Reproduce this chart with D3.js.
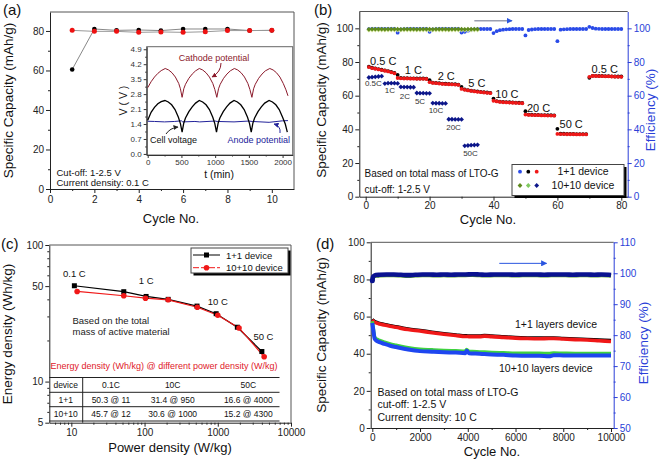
<!DOCTYPE html>
<html><head><meta charset="utf-8">
<script src="https://cdn.jsdelivr.net/npm/d3@7"></script>
<style>body{margin:0;background:#fff}svg{display:block}text{font-family:"Liberation Sans",Arial,sans-serif}</style>
</head><body><svg id="c" width="661" height="462"></svg>
<script>
// ---------- Panel (a) data ----------
const aCycles = [1,2,3,4,5,6,7,8,9,10];
const aCharge = [60.5,81,80.3,80.5,80.2,81,81,81,80.2,80.3];
const aDischarge = [80.3,79.8,79.8,79.3,79.5,79.3,79.6,80.2,80.2,80.3];
// inset (t in min, V)
const insetCathodeT = [0,50,100,150,200,260,310,360,410,460,485,510,535,560,610,660,710,765,815,865,915,965,995,1025,1050,1075,1125,1175,1225,1285,1335,1385,1435,1485,1515,1545,1570,1595,1645,1695,1745,1810,1860,1910,1960,2010,2050,2080];
const insetCathodeV = [3.1,3.38,3.6,3.77,3.9,4.0,3.93,3.8,3.6,3.3,3.05,2.65,3.05,3.26,3.54,3.74,3.89,4.0,3.93,3.8,3.6,3.3,3.02,2.65,3.05,3.26,3.54,3.74,3.89,4.0,3.93,3.8,3.6,3.3,3.02,2.65,3.05,3.26,3.54,3.74,3.89,4.0,3.93,3.8,3.6,3.3,3.0,2.72];
const insetCellT = [0,50,100,150,200,255,305,355,405,455,485,510,535,560,610,660,710,765,815,865,915,965,995,1020,1045,1070,1120,1170,1220,1280,1330,1380,1430,1480,1510,1535,1560,1585,1635,1685,1735,1800,1850,1900,1950,2000,2040,2070];
const insetCellV = [1.58,1.95,2.18,2.35,2.45,2.5,2.43,2.3,2.08,1.72,1.42,1.02,1.45,1.68,1.98,2.2,2.38,2.5,2.43,2.3,2.08,1.72,1.42,1.02,1.45,1.68,1.98,2.2,2.38,2.5,2.43,2.3,2.08,1.72,1.42,1.02,1.45,1.68,1.98,2.2,2.38,2.5,2.43,2.3,2.08,1.72,1.4,1.02];
const insetAnodeT = [0,100,250,400,500,520,700,770,1000,1030,1280,1500,1550,1800,2000,2080];
const insetAnodeV = [1.53,1.52,1.5,1.52,1.55,1.5,1.52,1.5,1.54,1.52,1.5,1.54,1.52,1.48,1.55,1.56];

// ---------- Panel (b) data ----------
const bCycles = d3.range(1,81);
const bDischarge = [77,76.4,76,75.6,75.2,74.8,74.4,73.9,73.3,
 70.5,70.3,70.2,70.2,70.1,70.1,70,70,70,69.9,
 68,67.6,67.4,67.2,67,66.9,66.8,66.7,66.6,66.4,
 64,63.5,63.1,62.8,62.5,62.3,62.1,61.9,61.7,61.5,
 57,56.6,56.3,56.1,56,55.9,55.8,55.7,55.6,55.5,
 48.8,48.6,48.5,48.4,48.4,48.3,48.3,48.2,48.2,48.1,
 37.3,37.2,37.2,37.1,37.1,37.1,37,37,37,37,
 71.2,71.7,71.7,71.6,71.6,71.5,71.5,71.4,71.3,71.2,71.2];
const bCharge = [77.2,76.6,76.2,75.8,75.4,75,74.6,74.1,73.5,
 72.3,70.5,70.4,70.4,70.3,70.3,70.2,70.2,70.2,70.1,
 69.2,67.8,67.6,67.4,67.2,67.1,67,66.9,66.8,66.6,
 65.2,63.7,63.3,63,62.7,62.5,62.3,62.1,61.9,61.7,
 58.3,56.8,56.5,56.3,56.2,56.1,56,55.9,55.8,55.7,
 50.8,48.8,48.7,48.6,48.6,48.5,48.5,48.4,48.4,48.3,
 40.3,37.4,37.4,37.3,37.3,37.3,37.2,37.2,37.2,37.2,
 70.6,71.8,71.8,71.7,71.7,71.6,71.6,71.5,71.4,71.4,71.4];
const bEff = [99.5,99.6,99.6,99.6,99.6,99.6,99.6,99.6,99.6,
 97.4,99.3,99.5,99.6,99.6,99.6,99.6,99.6,99.6,99.6,
 97.9,99.4,99.5,99.6,99.6,99.6,99.6,99.6,99.6,99.6,
 97.5,97.9,98.6,99.2,99.4,99.5,99.6,99.6,99.6,99.6,
 97.2,98.3,98.9,99.2,99.4,99.5,99.6,99.6,99.6,99.6,
 95.8,99.0,99.3,99.5,99.6,99.6,99.6,99.6,99.6,99.6,
 92.4,99.2,99.4,99.5,99.6,99.6,99.6,99.6,99.6,99.6,
 100.9,100.2,99.8,99.7,99.6,99.6,99.6,99.6,99.6,99.6,99.6];
const b10Cycles = d3.range(1,36);
const b10Discharge = [70.8,71,71.2,71.4,71.6, 67.2,67.4,67.4,67.4,67.3, 65.2,65.1,65.1,65,65,
 61.6,61.5,61.5,61.4,61.4, 55.6,55.5,55.5,55.4,55.4, 46,46,45.9,45.9,45.9, 30.2,30.4,30.6,30.7,30.8];
const b10Eff = [99.4,99.5,99.5,99.5,99.5,99.4,99.5,99.5,99.5,99.5,99.4,99.5,99.5,99.5,99.5,99.4,99.5,99.5,
 99.5,99.5,99.4,99.5,99.5,99.5,99.5,99.4,99.5,99.5,99.5,99.5,99.4,99.5,99.5,99.5,99.5];
const bRateLabels = [["0.5 C",5.5,78.2],["1 C",14.9,72.9],["2 C",25.2,69.3],["5 C",34.8,65],["10 C",44.2,58.4],["20 C",54.1,50.5],["50 C",64.3,40.6],["0.5 C",74.8,73.6]];
const b10RateLabels = [["0.5C",2.4,65.7],["1C",7.6,61.4],["2C",12.3,58],["5C",17,55],["10C",22,49.5],["20C",27.5,39.6],["50C",32.8,24.2]];

// ---------- Panel (c) data ----------
const cPower11 = [11,52,105,210,520,950,1850,4000];
const cEnergy11 = [50.3,45.5,42,40,35.7,31.4,25,16.6];
const cPower1010 = [12,52,103,210,525,1000,1950,4300];
const cEnergy1010 = [45.7,42.5,40.8,39.7,35,30.6,24.7,15.2];
const cTableHeader = ["device","0.1C","10C","50C"];
const cTableRows = [["1+1","50.3 @ 11","31.4 @ 950","16.6 @ 4000"],["10+10","45.7 @ 12","30.6 @ 1000","15.2 @ 4300"]];
const cRateLabels = [["0.1 C",11,58],["1 C",105,52],["10 C",1000,36.5],["50 C",4200,20]];

// ---------- Panel (d) data ----------
const dCycles = [0,50,100,200,300,500,750,1000,1500,2000,2500,3000,3500,3900,3950,4050,4500,4700,5000,5500,6000,6500,7000,7400,7600,8000,8500,9000,9500,10000];
const d11Discharge = [58.2,57.5,57,56.5,56,55.5,54.8,54.2,53,52.2,51.3,50.5,49.8,49.3,49.3,49.2,49.2,49.5,49.2,48.8,48.4,48.2,48.1,48.2,48.2,47.9,47.6,47.4,47,46.6];
const d11Charge = [58.6,57.9,57.4,56.9,56.4,55.9,55.2,54.6,53.4,52.6,51.7,50.9,50.2,49.7,49.7,49.6,49.6,49.9,49.6,49.2,48.8,48.6,48.5,48.6,48.6,48.3,48,47.8,47.5,47.2];
const d1010Charge = [57.5,53,49,47.8,47.2,46.3,45.3,44.6,43.3,42.4,42.1,41.8,41.6,41.4,42.3,41.3,41,40.9,40.7,40.5,40.3,40.3,40.3,40.1,40.4,40.3,40.2,40.2,40.2,40.2];
const d1010Discharge = [56.5,52,48,46.8,46.2,45.3,44.3,43.6,42.3,41.4,41.1,40.8,40.6,40.3,41.6,40.3,40,39.8,39.6,39.4,39,38.9,38.9,38.6,39.2,39.1,39,39,39,39];
const dEffCycles = [0,30,80,150,300,600,900,1200,1500,1800,2100,2400,2700,3000,3300,3600,3900,4200,4500,4800,5100,5400,5700,6000,6300,6600,6900,7200,7500,7800,8100,8400,8700,9000,9300,9600,9900,10000];
const dEff = [97.6,98.8,99.2,99.4,99.5,99.6,99.6,99.5,99.4,99.5,99.6,99.6,99.5,99.6,99.5,99.6,99.6,99.7,99.6,99.5,99.6,99.6,99.6,99.5,99.6,99.6,99.6,99.5,99.6,99.6,99.6,99.5,99.6,99.6,99.5,99.6,99.5,99.4];

// ---------- helpers ----------
const svg = d3.select('#c');
const defs = svg.append('defs');
function mk(id,color,size){
  defs.append('marker').attr('id',id).attr('viewBox','0 0 10 10').attr('refX',9).attr('refY',5)
   .attr('markerWidth',size).attr('markerHeight',size).attr('markerUnits','userSpaceOnUse').attr('orient','auto')
   .append('path').attr('d','M0,0L10,5L0,10z').attr('fill',color);
}
mk('arrBlue','#2a55e0',6); mk('arrDark','#222',5); mk('arrRed','#8b1a2b',5); mk('arrNavy','#22229a',5);

function axis(type, scale, pos, majors, minors, o={}){
  const color = o.color||'#222';
  const gen = {bottom:d3.axisBottom,left:d3.axisLeft,right:d3.axisRight}[type];
  const tr = type==='bottom'?`translate(0,${pos})`:`translate(${pos},0)`;
  const g = svg.append('g').attr('transform',tr)
    .call(gen(scale).tickValues(majors).tickSizeInner(o.major||4).tickSizeOuter(0).tickPadding(o.pad||2).tickFormat(o.fmt||(d=>d)));
  g.attr('font-family',null).attr('font-size',null);
  g.select('.domain').attr('stroke',color);
  g.selectAll('.tick line').attr('stroke',color);
  g.selectAll('.tick text').attr('fill',color).style('font-size',(o.fs||10)+'px');
  if(minors&&minors.length){
    const m = svg.append('g').attr('transform',tr).call(gen(scale).tickValues(minors).tickSizeInner(o.minor||2).tickSizeOuter(0).tickFormat(''));
    m.select('.domain').remove(); m.selectAll('.tick line').attr('stroke',color);
  }
  return g;
}
function frameLine(x1,y1,x2,y2,color){svg.append('line').attr('x1',x1).attr('y1',y1).attr('x2',x2).attr('y2',y2).attr('stroke',color||'#222');}
function txt(x,y,s,o={}){
  const t=svg.append('text').attr('x',x).attr('y',y).text(s).style('font-size',(o.fs||10)+'px').attr('fill',o.color||'#111');
  if(o.anchor) t.attr('text-anchor',o.anchor);
  if(o.rot) t.attr('transform',`rotate(${o.rot},${x},${y})`);
  return t;
}
function diamond(g,x,y,r,color){g.append('path').attr('d',`M${x},${y-r}L${x+r},${y}L${x},${y+r}L${x-r},${y}Z`).attr('fill',color);}

// ================= Panel (a) =================
{
  const x = d3.scaleLinear([0,11],[50,294]);
  const y = d3.scaleLinear([0,89.6],[189,12]);
  frameLine(50,12,294,12,'#555'); frameLine(294,12,294,189,'#555');
  axis('bottom',x,189,[0,2,4,6,8,10],[1,3,5,7,9],{pad:3});
  axis('left',y,50,[0,20,40,60,80],[10,30,50,70]);
  const line = d3.line().x((d,i)=>x(aCycles[i])).y(d=>y(d));
  svg.append('path').attr('d',line(aCharge)).attr('fill','none').attr('stroke','#888').attr('stroke-width',1);
  svg.append('path').attr('d',line(aDischarge)).attr('fill','none').attr('stroke','#999').attr('stroke-width',1);
  aCharge.forEach((v,i)=>svg.append('circle').attr('cx',x(aCycles[i])).attr('cy',y(v)).attr('r',2.3).attr('fill','#000'));
  aDischarge.forEach((v,i)=>svg.append('circle').attr('cx',x(aCycles[i])).attr('cy',y(v)).attr('r',2.5).attr('fill','#ee1111'));
  txt(56.5,176,'Cut-off: 1-2.5 V',{fs:9.5});
  txt(56.5,185.5,'Current density: 0.1 C',{fs:9.5});
  txt(13,100.5,'Specific Capacity (mAh/g)',{fs:13.5,anchor:'middle',rot:-90});
  txt(171,223,'Cycle No.',{fs:13,anchor:'middle'});
  txt(3,15,'(a)',{fs:15});
  // inset
  const xi = d3.scaleLinear([-15,2150],[146.7,292.7]);
  const yi = d3.scaleLinear([-0.05,5.02],[155,46.7]);
  svg.append('rect').attr('x',146.7).attr('y',46.7).attr('width',146).attr('height',108.3).attr('fill','#fff').attr('stroke','#666');
  axis('bottom',xi,155,[0,500,1000,1500,2000],[250,750,1250,1750],{fs:8,major:3,minor:1.5,pad:1.5,color:'#333'});
  axis('left',yi,146.7,[0,0.7,1.4,2.1,2.8,3.5,4.2,4.9],[0.35,1.05,1.75,2.45,3.15,3.85,4.55],{fs:8,major:3,minor:1.5,fmt:d3.format('.1f'),color:'#333'});
  const il = (T)=>d3.line().x((d,i)=>xi(T[i])).y(d=>yi(d));
  svg.append('path').attr('d',il(insetCathodeT)(insetCathodeV)).attr('fill','none').attr('stroke','#8b1a2b').attr('stroke-width',1);
  svg.append('path').attr('d',il(insetAnodeT)(insetAnodeV)).attr('fill','none').attr('stroke','#22229a').attr('stroke-width',1);
  svg.append('path').attr('d',il(insetCellT)(insetCellV)).attr('fill','none').attr('stroke','#000').attr('stroke-width',1.3);
  txt(214,61,'Cathode potential',{fs:9,anchor:'middle',color:'#8b1a2b'});
  txt(150,143,'Cell voltage',{fs:9,color:'#111'});
  txt(290,143,'Anode potential',{fs:9,anchor:'end',color:'#22229a'});
  svg.append('path').attr('d','M221,63 Q221,72 212,77').attr('fill','none').attr('stroke','#8b1a2b').attr('marker-end','url(#arrRed)');
  svg.append('path').attr('d','M166,134 Q170,128 178,127').attr('fill','none').attr('stroke','#222').attr('marker-end','url(#arrDark)');
  svg.append('path').attr('d','M280,133 Q281,126 274,124').attr('fill','none').attr('stroke','#22229a').attr('marker-end','url(#arrNavy)');
  txt(219,177.5,'t (min)',{fs:10.5,anchor:'middle'});
  txt(127,100.5,'V ( V )',{fs:10.5,anchor:'middle',rot:-90});
}

// ================= Panel (b) =================
{
  const x = d3.scaleLinear([-2,82],[359.3,627.7]);
  const y = d3.scaleLinear([0,110],[196.7,11.5]);
  frameLine(359.3,11.5,627.7,11.5,'#555');
  axis('bottom',x,196.7,[0,20,40,60,80],[10,30,50,70],{pad:1});
  axis('left',y,359.3,[0,20,40,60,80,100],[10,30,50,70,90]);
  axis('right',y,627.7,[0,20,40,60,80,100],[10,30,50,70,90],{color:'#2a3fd8'});
  // arrow
  svg.append('line').attr('x1',x(34)).attr('y1',y(104.5)).attr('x2',x(45.8)).attr('y2',y(104.5)).attr('stroke','#9a9eb0').attr('stroke-width',1.5).attr('marker-end','url(#arrBlue)');
  const g = svg.append('g');
  bEff.forEach((v,i)=>g.append('circle').attr('cx',x(bCycles[i])).attr('cy',y(v)).attr('r',1.9).attr('fill','#2a4be8'));
  bCharge.forEach((v,i)=>g.append('circle').attr('cx',x(bCycles[i])).attr('cy',y(v)).attr('r',1.9).attr('fill','#000'));
  bDischarge.forEach((v,i)=>g.append('circle').attr('cx',x(bCycles[i])).attr('cy',y(v)).attr('r',1.9).attr('fill','#f01818'));
  b10Discharge.forEach((v,i)=>diamond(g,x(b10Cycles[i]),y(v),2.4,'#0c168a'));
  b10Eff.forEach((v,i)=>diamond(g,x(b10Cycles[i]),y(v)+0.8,2.4,'#d8e8a0'));
  b10Eff.forEach((v,i)=>diamond(g,x(b10Cycles[i]),y(v),2.4,'#5f8a1e'));
  bRateLabels.forEach(d=>txt(x(d[1]),y(d[2]),d[0],{fs:11,anchor:'middle'}));
  b10RateLabels.forEach(d=>txt(x(d[1]),y(d[2]),d[0],{fs:8,anchor:'middle',color:'#333'}));
  txt(364.5,177,'Based on total mass of LTO-G',{fs:10});
  txt(364.5,192.5,'cut-off: 1-2.5 V',{fs:10});
  // legend
  svg.append('rect').attr('x',514.5).attr('y',167).attr('width',112).attr('height',31).attr('fill','#000');
  svg.append('rect').attr('x',512).attr('y',164.5).attr('width',112).attr('height',31).attr('fill','#fff').attr('stroke','#444');
  [['#2a4be8',520],['#000',528.3],['#f01818',536.7]].forEach(d=>svg.append('circle').attr('cx',d[1]).attr('cy',171.7).attr('r',1.9).attr('fill',d[0]));
  [['#5f8a1e',520],['#7fc860',528.3],['#0c168a',536.7]].forEach(d=>diamond(svg,d[1],185.5,2.4,d[0]));
  txt(583,175.2,'1+1 device',{fs:10.5,anchor:'middle'});
  txt(583,189.2,'10+10 device',{fs:10.5,anchor:'middle'});
  txt(326,100,'Specific Capacity (mAh/g)',{fs:13.5,anchor:'middle',rot:-90});
  txt(655,110,'Efficiency (%)',{fs:13.5,anchor:'middle',rot:-90,color:'#2a3fd8'});
  txt(488,224,'Cycle No.',{fs:13,anchor:'middle'});
  txt(314,15,'(b)',{fs:15});
}

// ================= Panel (c) =================
{
  const x = d3.scaleLog([5,10000],[49.3,291]);
  const y = d3.scaleLog([5,100],[422.7,245]);
  frameLine(49.3,245,291,245,'#555'); frameLine(291,245,291,422.7,'#555');
  const xmin=[]; [1,10,100,1000].forEach(p=>[2,3,4,5,6,7,8,9].forEach(k=>{const v=k*p; if(v>5&&v<10000) xmin.push(v);}));
  axis('bottom',x,422.7,[10,100,1000,10000],xmin,{pad:2,fmt:d3.format('d')});
  axis('left',y,49.3,[5,10,50,100],[6,7,8,9,20,30,40,60,70,80,90],{fmt:d3.format('d')});
  const l1 = d3.line().x((d,i)=>x(cPower11[i])).y(d=>y(d));
  const l2 = d3.line().x((d,i)=>x(cPower1010[i])).y(d=>y(d));
  svg.append('path').attr('d',l1(cEnergy11)).attr('fill','none').attr('stroke','#000').attr('stroke-width',1.2);
  svg.append('path').attr('d',l2(cEnergy1010)).attr('fill','none').attr('stroke','#f01818').attr('stroke-width',1.2);
  cEnergy11.forEach((v,i)=>svg.append('rect').attr('x',x(cPower11[i])-2.5).attr('y',y(v)-2.5).attr('width',5).attr('height',5).attr('fill','#000'));
  cEnergy1010.forEach((v,i)=>svg.append('circle').attr('cx',x(cPower1010[i])).attr('cy',y(v)).attr('r',2.8).attr('fill','#f01818'));
  cRateLabels.forEach(d=>txt(x(d[1]),y(d[2]),d[0],{fs:9.5,anchor:'middle'}));
  txt(72.5,323.5,'Based on the total',{fs:9.5,color:'#222'});
  txt(72.5,335,'mass of active material',{fs:9.5,color:'#222'});
  // table
  txt(164,369.3,'Energy density (Wh/kg) @ different power density (W/kg)',{fs:9,anchor:'middle',color:'#e0202a'});
  [377.5,392.3,406.7,421].forEach(yy=>frameLine(49.3,yy,279.5,yy,'#222'));
  frameLine(82.7,377.5,82.7,422.7,'#222');
  const colX=[65.7,111,172.7,248.3];
  cTableHeader.forEach((s,i)=>txt(colX[i],388,s,{fs:8.5,anchor:'middle'}));
  cTableRows.forEach((r,j)=>r.forEach((s,i)=>txt(colX[i],402.7+j*14,s,{fs:8.5,anchor:'middle'})));
  // legend
  svg.append('rect').attr('x',193.5).attr('y',250.5).attr('width',97).attr('height',25).attr('fill','#000');
  svg.append('rect').attr('x',191).attr('y',248).attr('width',97).attr('height',25).attr('fill','#fff').attr('stroke','#444');
  frameLine(193,255,220,255,'#000');
  svg.append('rect').attr('x',204).attr('y',252.5).attr('width',5).attr('height',5).attr('fill','#000');
  svg.append('line').attr('x1',193).attr('y1',267.7).attr('x2',220).attr('y2',267.7).attr('stroke','#f01818').attr('stroke-dasharray','6,2');
  svg.append('circle').attr('cx',206.5).attr('cy',267.7).attr('r',2.8).attr('fill','#f01818');
  txt(226,258.7,'1+1 device',{fs:9.5});
  txt(226,271.4,'10+10 device',{fs:9.5});
  txt(12,334,'Energy density (Wh/kg)',{fs:13.5,anchor:'middle',rot:-90});
  txt(170,452,'Power density (W/kg)',{fs:13,anchor:'middle'});
  txt(1,249,'(c)',{fs:15});
}

// ================= Panel (d) =================
{
  const x = d3.scaleLinear([-67,10113],[370.7,613.7]);
  const yL = d3.scaleLinear([0,100],[428,242.3]);
  const yR = d3.scaleLinear([50,110],[428,242.3]);
  frameLine(370.7,242.3,613.7,242.3,'#555');
  axis('bottom',x,428,[0,2000,4000,6000,8000,10000],[1000,3000,5000,7000,9000],{pad:2,fmt:d3.format('d')});
  axis('left',yL,370.7,[0,20,40,60,80,100],[10,30,50,70,90]);
  axis('right',yR,613.7,[50,60,70,80,90,100,110],[55,65,75,85,95,105],{color:'#2a3fd8'});
  svg.append('line').attr('x1',x(5320)).attr('y1',yR(103.2)).attr('x2',x(7300)).attr('y2',yR(103.2)).attr('stroke','#2a55e0').attr('stroke-width',1).attr('marker-end','url(#arrBlue)');
  const lx = d3.line().x((d,i)=>x(dCycles[i])).y(d=>yL(d)).curve(d3.curveMonotoneX);
  svg.append('path').attr('d',lx(d11Charge)).attr('fill','none').attr('stroke','#000').attr('stroke-width',3.2);
  svg.append('path').attr('d',lx(d11Discharge)).attr('fill','none').attr('stroke','#f01818').attr('stroke-width',3.6);
  svg.append('path').attr('d',lx(d1010Charge)).attr('fill','none').attr('stroke','#3fd23f').attr('stroke-width',3.4);
  svg.append('path').attr('d',lx(d1010Discharge)).attr('fill','none').attr('stroke','#1e46f0').attr('stroke-width',4);
  const le = d3.line().x((d,i)=>x(dEffCycles[i])).y(d=>yR(d)).curve(d3.curveMonotoneX);
  svg.append('path').attr('d',le(dEff.map(v=>v-0.25))).attr('fill','none').attr('stroke','#5ca02a').attr('stroke-width',4);
  svg.append('path').attr('d',le(dEff)).attr('fill','none').attr('stroke','#0a1290').attr('stroke-width',4.6);
  svg.append('circle').attr('cx',x(dEffCycles[0])).attr('cy',yR(dEff[0])).attr('r',2.5).attr('fill','#0a1290');
  txt(515,327.7,'1+1 layers device',{fs:10.5});
  txt(499,371.7,'10+10 layers device',{fs:10.5});
  txt(377.5,396,'Based on total mass of LTO-G',{fs:10.5});
  txt(377.5,408,'cut-off: 1-2.5 V',{fs:10.5});
  txt(377.5,420.5,'Current density: 10 C',{fs:10.5});
  txt(326,335,'Specific Capacity (mAh/g)',{fs:13.5,anchor:'middle',rot:-90});
  txt(648,343,'Efficiency (%)',{fs:13.5,anchor:'middle',rot:-90,color:'#2a3fd8'});
  txt(492,456,'Cycle No.',{fs:13,anchor:'middle'});
  txt(316,249,'(d)',{fs:15});
}
</script></body></html>
